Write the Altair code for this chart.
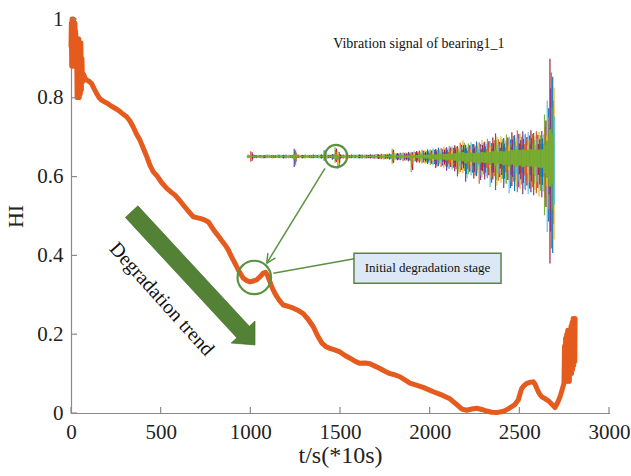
import altair as alt
import pandas as pd

# ---------------- health indicator curve ----------------
hi_t = [0, 2, 4, 6, 8, 10, 12, 14, 16, 18, 20, 22, 24, 26, 28, 31, 34, 37, 40, 43,
        46, 49, 52, 55, 58, 61, 64, 70, 78, 88, 100, 115, 130, 143, 157, 171, 185,
        199, 218, 236, 255, 273, 292, 310, 329, 347, 365, 385, 405, 423, 440, 459,
        478, 505, 534, 560, 580, 605, 626, 655, 682, 700, 719, 740, 766, 785, 803,
        822, 840, 860, 877, 890, 905, 920, 933, 947, 961, 980, 998, 1015, 1035,
        1055, 1072, 1085, 1095, 1108, 1119, 1133, 1147, 1165, 1184, 1210, 1240,
        1268, 1295, 1322, 1351, 1375, 1398, 1420, 1444, 1470, 1500, 1528, 1556,
        1585, 1611, 1640, 1667, 1695, 1723, 1750, 1779, 1805, 1834, 1862, 1890,
        1925, 1964, 1990, 2020, 2048, 2076, 2113, 2150, 2180, 2206, 2235, 2262,
        2290, 2318, 2345, 2374, 2398, 2420, 2440, 2457, 2476, 2494, 2505, 2513,
        2527, 2541, 2560, 2578, 2588, 2597, 2610, 2625, 2645, 2662, 2680, 2699,
        2712, 2727, 2738, 2749, 2752, 2755, 2758, 2761, 2764, 2767, 2770, 2773,
        2776, 2779, 2782, 2785, 2788, 2791, 2794, 2797, 2800, 2803, 2806, 2809, 2811]
hi_v = [0.93, 0.99, 0.88, 1.00, 0.89, 0.99, 0.88, 1.00, 0.90, 0.97, 0.88, 0.99,
        0.89, 0.97, 0.88, 0.95, 0.80, 0.94, 0.81, 0.95, 0.80, 0.93, 0.81, 0.94,
        0.82, 0.90, 0.84, 0.86, 0.85, 0.845, 0.842, 0.836, 0.822, 0.811, 0.800,
        0.794, 0.790, 0.787, 0.781, 0.776, 0.771, 0.765, 0.758, 0.752, 0.741,
        0.726, 0.708, 0.692, 0.670, 0.650, 0.629, 0.612, 0.603, 0.585, 0.570,
        0.560, 0.553, 0.540, 0.528, 0.512, 0.498, 0.496, 0.494, 0.491, 0.485,
        0.472, 0.460, 0.449, 0.438, 0.426, 0.414, 0.401, 0.388, 0.375, 0.363,
        0.352, 0.342, 0.336, 0.333, 0.335, 0.338, 0.346, 0.355, 0.357, 0.350,
        0.335, 0.321, 0.307, 0.296, 0.284, 0.274, 0.271, 0.266, 0.260, 0.252,
        0.238, 0.219, 0.196, 0.178, 0.169, 0.164, 0.160, 0.155, 0.146, 0.139,
        0.131, 0.126, 0.127, 0.125, 0.119, 0.113, 0.106, 0.100, 0.097, 0.092,
        0.084, 0.076, 0.071, 0.065, 0.060, 0.054, 0.049, 0.044, 0.036, 0.022,
        0.010, 0.007, 0.010, 0.012, 0.009, 0.005, 0.002, 0.001, 0.003, 0.006,
        0.011, 0.016, 0.022, 0.033, 0.050, 0.062, 0.070, 0.075, 0.078, 0.079,
        0.073, 0.063, 0.050, 0.041, 0.036, 0.031, 0.023, 0.014, 0.025, 0.041,
        0.058, 0.076, 0.17, 0.08, 0.19, 0.09, 0.20, 0.08, 0.21, 0.09, 0.20, 0.08,
        0.21, 0.10, 0.22, 0.10, 0.23, 0.11, 0.24, 0.12, 0.24, 0.13, 0.24]

x_ticks = [0, 500, 1000, 1500, 2000, 2500, 3000]
y_ticks = [0, 0.2, 0.4, 0.6, 0.8, 1.0]

# ---------------- raw vibration envelope (inset), acceleration in g ----------------
vib_i = [0, 25, 50, 75, 100, 125, 150, 175, 200, 225, 250, 275, 300, 325, 350, 375,
         400, 425, 450, 475, 500, 525, 550, 575, 600, 625, 650, 675, 700, 725, 750,
         775, 800, 825, 850, 875, 900, 925, 950, 975, 1000, 1025, 1050, 1075, 1100,
         1125, 1150, 1175, 1200, 1225, 1250, 1275, 1300, 1325, 1350, 1375, 1400,
         1425, 1450, 1475, 1500, 1525, 1550, 1575, 1600, 1625, 1650, 1675, 1700,
         1725, 1750, 1775, 1800, 1825, 1850, 1875, 1900, 1925, 1950, 1975, 2000,
         2025, 2050, 2075, 2100, 2125, 2150, 2175, 2200, 2225, 2250, 2275, 2300,
         2325, 2350, 2375, 2400, 2425, 2450, 2475, 2500, 2525, 2550, 2575, 2600,
         2625, 2650, 2675, 2700, 2725, 2750, 2775, 2800]
vib_hi = [0.8, 2.5, 0.9, 0.7, 0.8, 0.8, 0.7, 0.9, 0.8, 0.8, 0.7, 0.9, 0.8, 0.8, 0.9,
          0.8, 0.8, 3.7, 0.9, 0.8, 0.8, 0.9, 0.8, 0.8, 0.9, 0.8, 0.9, 1.0, 3.0, 0.9,
          0.9, 1.2, 4.4, 2.5, 1.0, 0.9, 0.9, 0.8, 0.9, 0.9, 0.9, 1.0, 0.9, 1.0, 1.0,
          1.1, 1.0, 1.2, 1.1, 1.3, 1.2, 1.4, 1.4, 3.7, 1.6, 1.7, 1.8, 1.9, 2.0, 2.2,
          2.3, 2.5, 2.6, 2.8, 3.2, 3.0, 3.4, 3.3, 3.8, 3.6, 4.2, 4.0, 4.6, 4.4, 5.0,
          4.8, 5.4, 5.0, 6.5, 7.6, 5.6, 6.2, 6.8, 6.0, 7.2, 6.8, 7.8, 7.0, 8.5, 7.4,
          9.0, 11.0, 8.2, 9.6, 8.8, 10.5, 9.4, 11.5, 10.2, 12.4, 11.0, 12.0, 10.8,
          11.6, 12.5, 11.2, 12.0, 11.8, 12.2, 20.0, 26.7, 46.5, 38.0]
vib_lo = [-0.8, -2.5, -0.8, -0.8, -0.7, -0.9, -0.8, -0.8, -0.8, -0.9, -0.7, -0.8,
          -0.8, -0.9, -0.8, -0.8, -0.9, -5.0, -0.8, -0.8, -0.9, -0.8, -0.8, -0.9,
          -0.8, -0.8, -0.9, -1.0, -2.0, -0.9, -0.8, -1.5, -3.0, -5.9, -1.0, -0.9,
          -0.9, -0.9, -0.8, -0.9, -0.9, -0.9, -1.0, -1.0, -1.0, -1.0, -1.1, -1.1,
          -1.2, -1.3, -1.4, -1.3, -1.5, -3.5, -1.7, -1.8, -1.8, -2.1, -2.2, -2.3,
          -7.5, -2.6, -2.8, -3.0, -3.2, -3.5, -3.6, -4.0, -4.2, -5.5, -4.6, -5.0,
          -5.4, -6.8, -5.8, -6.2, -7.0, -9.5, -7.4, -8.0, -12.0, -8.4, -9.0, -10.5,
          -9.4, -13.0, -10.0, -11.0, -10.4, -14.5, -11.0, -16.0, -11.5, -12.5,
          -15.0, -13.0, -17.5, -14.0, -16.5, -17.0, -15.5, -18.0, -16.0, -17.8,
          -17.0, -18.5, -17.5, -19.0, -19.4, -28.0, -36.0, -51.0, -46.0]

# ---------------- styling ----------------
SERIF = "Liberation Serif"
ORANGE = "#E55B1E"
DARK_GREEN = "#538135"
LINE_GREEN = "#5B9240"
AXIS_GREY = "#8a8a8a"
MATLAB_COLORS = ["#0072BD", "#D95319", "#EDB120", "#7E2F8E", "#77AC30", "#4DBEEE", "#A2142F"]

W, H = 538, 394
XS = alt.Scale(domain=[0, 3000], nice=False, zero=False)
YS = alt.Scale(domain=[0, 1], nice=False, zero=False)

hi_df = pd.DataFrame({"x": hi_t, "y": hi_v})

hi_line = alt.Chart(hi_df).mark_line(
    color=ORANGE, strokeWidth=5, strokeJoin="round", strokeCap="round"
).encode(
    x=alt.X("x:Q", scale=XS, title="t/s(*10s)",
            axis=alt.Axis(values=x_ticks, ticks=False, grid=False, format="d",
                          labelPadding=8, titleFontSize=24, titlePadding=1,
                          labelFlush=False)),
    y=alt.Y("y:Q", scale=YS, title="HI",
            axis=alt.Axis(values=y_ticks, ticks=False, grid=False, format=".1~f",
                          labelPadding=8, titleFontSize=22, titlePadding=9,
                          labelFlush=False)),
)

# inward tick marks
xt = alt.Chart(pd.DataFrame({"x": x_ticks})).mark_rule(color=AXIS_GREY, strokeWidth=1.2).encode(
    x=alt.X("x:Q", scale=XS), y=alt.value(H), y2=alt.value(H - 6))
yt = alt.Chart(pd.DataFrame({"y": y_ticks})).mark_rule(color=AXIS_GREY, strokeWidth=1.2).encode(
    y=alt.Y("y:Q", scale=YS), x=alt.value(0), x2=alt.value(6))

# big "degradation trend" arrow drawn as one rotated symbol
arrow_path = ("M -1 -0.094 L 0.807 -0.094 L 0.807 -0.179 L 1 0 "
              "L 0.807 0.179 L 0.807 0.094 L -1 0.094 Z")
trend_arrow = alt.Chart(pd.DataFrame({"x": [682], "y": [0.342]})).mark_point(
    shape=arrow_path, filled=True, fill=DARK_GREEN, stroke="#3f6a28", strokeWidth=0.6,
    opacity=1, size=32980, angle=47.2
).encode(x=alt.X("x:Q", scale=XS), y=alt.Y("y:Q", scale=YS))

trend_text = alt.Chart(pd.DataFrame({"x": [505], "y": [0.289], "t": ["Degradation trend"]})).mark_text(
    font=SERIF, fontSize=20, angle=48, align="center", baseline="middle", color="#111"
).encode(x=alt.X("x:Q", scale=XS), y=alt.Y("y:Q", scale=YS), text="t:N")

# highlight circles
circles = alt.Chart(pd.DataFrame({"x": [1478, 1022], "y": [0.652, 0.344], "s": [500, 1120]})).mark_point(
    shape="circle", filled=False, color=LINE_GREEN, strokeWidth=2.2, opacity=1
).encode(x=alt.X("x:Q", scale=XS), y=alt.Y("y:Q", scale=YS),
         size=alt.Size("s:Q", scale=None, legend=None))

# connector lines: pointer arrow (shaft + two head strokes) and callout leader
seg_df = pd.DataFrame({
    "x": [1416, 1091, 1091, 1128],
    "y": [0.621, 0.380, 0.380, 0.3546],
    "x2": [1091, 1140, 1098, 1580],
    "y2": [0.380, 0.394, 0.406, 0.3916],
})
segments = alt.Chart(seg_df).mark_rule(color=LINE_GREEN, strokeWidth=1.5).encode(
    x=alt.X("x:Q", scale=XS), y=alt.Y("y:Q", scale=YS), x2="x2:Q", y2="y2:Q")

# callout box
box = alt.Chart(pd.DataFrame({"x": [1578], "x2": [2398], "y": [0.4053], "y2": [0.3292]})).mark_rect(
    fill="#DCE8F5", stroke="#5E8048", strokeWidth=1.5
).encode(x=alt.X("x:Q", scale=XS), x2="x2:Q", y=alt.Y("y:Q", scale=YS), y2="y2:Q")

labels = alt.Chart(pd.DataFrame({
    "x": [1988, 1940], "y": [0.367, 0.937],
    "t": ["Initial degradation stage", "Vibration signal of bearing1_1"],
    "fs": [13, 14],
})).mark_text(font=SERIF, align="center", baseline="middle", color="#111").encode(
    x=alt.X("x:Q", scale=XS), y=alt.Y("y:Q", scale=YS), text="t:N",
    size=alt.Size("fs:Q", scale=None, legend=None))

main = alt.layer(hi_line, xt, yt, trend_arrow, trend_text, circles, segments, box, labels)

# ---------------- inset: raw vibration signal ----------------
vib_df = pd.DataFrame({"i": vib_i, "hi": vib_hi, "lo": vib_lo})
n_rows = len(vib_df)
# colour slots cycle through the MATLAB line order for the overlapping channels
vib_df["k0"] = [n % 7 for n in range(n_rows)]
vib_df["k1"] = [(n + 2) % 7 for n in range(n_rows)]
vib_df["k2"] = [(n + 4) % 7 for n in range(n_rows)]
vib_df["k3"] = [(n + 5) % 7 for n in range(n_rows)]

IX = alt.Scale(domain=[0, 2803], range=[177, 482], nice=False, zero=False)
IY = alt.Scale(domain=[-52, 52], range=[246.7, 28.3], nice=False, zero=False)
CS = alt.Scale(domain=list(range(7)), range=MATLAB_COLORS)

base = alt.Chart(vib_df)


def vib_layer(frac, key, offset, width):
    return base.transform_calculate(
        top=f"datum.hi*{frac}", bot=f"datum.lo*{frac}"
    ).mark_rule(strokeWidth=width, xOffset=offset, opacity=0.95).encode(
        x=alt.X("i:Q", scale=IX, axis=None),
        y=alt.Y("top:Q", scale=IY, axis=None), y2="bot:Q",
        color=alt.Color(f"{key}:O", scale=CS, legend=None))


layers = [
    vib_layer(1.0, "k0", 0.0, 1.2),
    vib_layer(0.86, "k1", 1.4, 1.2),
    vib_layer(0.7, "k2", 0.7, 1.1),
    vib_layer(0.5, "k3", 2.0, 1.1),
]
core = base.transform_calculate(top="datum.hi*0.28", bot="datum.lo*0.28").mark_rule(
    strokeWidth=2.9, color="#77AC30").encode(
    x=alt.X("i:Q", scale=IX, axis=None), y=alt.Y("top:Q", scale=IY, axis=None), y2="bot:Q")

inset = alt.layer(*layers, core)

chart = alt.layer(inset, main).resolve_scale(
    x="independent", y="independent", color="independent", size="independent"
).properties(
    width=W, height=H,
    padding={"left": 71, "top": 19, "right": 22, "bottom": 63},
    autosize=alt.AutoSizeParams(type="none"),
).configure_view(stroke=None).configure_axis(
    labelFont=SERIF, labelFontSize=21, labelColor="#222",
    titleFont=SERIF, titleFontWeight="normal", titleColor="#222",
    domainColor=AXIS_GREY, domainWidth=1.2, domainCap="square",
).configure_text(font=SERIF)

chart.save("out.html", embed_options={"renderer": "svg", "actions": False})
